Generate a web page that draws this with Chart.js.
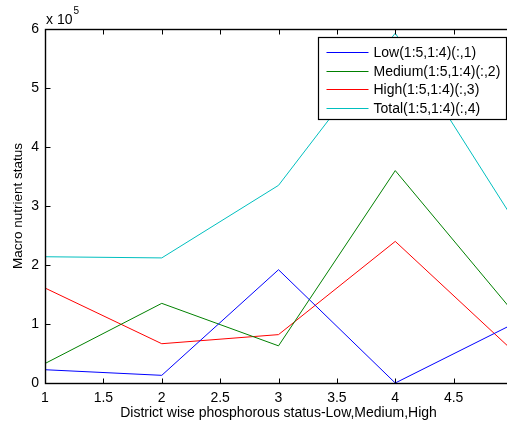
<!DOCTYPE html>
<html>
<head>
<meta charset="utf-8">
<script src="https://cdn.jsdelivr.net/npm/chart.js@4.4.1/dist/chart.umd.min.js"></script>
<style>
  html, body { margin: 0; padding: 0; background: #fff; overflow: hidden; }
  #wrap { width: 530px; height: 423px; }
</style>
</head>
<body>
<div id="wrap"><canvas id="plot" width="530" height="423"></canvas></div>
<script>
// district positions and the four nutrient series
const xValues = [1, 2, 3, 4, 5];
const lowVals = [22500, 13000, 192000, 0, 99000];
const mediumVals = [33000, 135000, 63000, 360000, 123000];
const highVals = [161000, 66600, 82000, 240000, 56000];
const totalVals = [214000, 212000, 335000, 593000, 281000];

const seriesLabels = ['Low(1:5,1:4)(:,1)', 'Medium(1:5,1:4)(:,2)', 'High(1:5,1:4)(:,3)', 'Total(1:5,1:4)(:,4)'];
const seriesColors = ['#0000ff', '#008000', '#ff0000', '#00bfbf'];
const seriesValues = [lowVals, mediumVals, highVals, totalVals];

const xTickValues = [1, 1.5, 2, 2.5, 3, 3.5, 4, 4.5, 5];
const yTickValues = [0, 100000, 200000, 300000, 400000, 500000, 600000];

const FONT = '"Liberation Sans", Arial, Helvetica, sans-serif';

function toPoints(vals) {
    return vals.map((v, i) => ({ x: xValues[i], y: v }));
}

// box around the axes, inward ticks, exponent label and the legend
const matlabAxes = {
    id: 'matlabAxes',
    afterDraw(chart) {
        const ctx = chart.ctx;
        const a = chart.chartArea;
        const xs = chart.scales.x;
        const ys = chart.scales.y;
        const L = Math.round(a.left) + 0.5, R = Math.round(a.right) + 0.5;
        const T = Math.round(a.top) + 0.5, B = Math.round(a.bottom) + 0.5;

        ctx.save();
        ctx.strokeStyle = '#000';
        ctx.lineWidth = 1.4;
        ctx.strokeRect(L, T, R - L, B - T);

        ctx.lineWidth = 1;
        ctx.beginPath();
        xTickValues.forEach(v => {
            const px = Math.round(xs.getPixelForValue(v)) + 0.5;
            ctx.moveTo(px, B); ctx.lineTo(px, B - 5);
            ctx.moveTo(px, T); ctx.lineTo(px, T + 5);
        });
        yTickValues.forEach(v => {
            const py = Math.round(ys.getPixelForValue(v)) + 0.5;
            ctx.moveTo(L, py); ctx.lineTo(L + 5, py);
            ctx.moveTo(R, py); ctx.lineTo(R - 5, py);
        });
        ctx.stroke();

        // "x 10^5" multiplier above the y axis
        ctx.fillStyle = '#000';
        ctx.textBaseline = 'middle';
        ctx.textAlign = 'left';
        ctx.font = '14px ' + FONT;
        ctx.fillText('x 10', a.left + 1, a.top - 9);
        const w = ctx.measureText('x 10').width;
        ctx.font = '10px ' + FONT;
        ctx.fillText('5', a.left + 2 + w, a.top - 18);

        // legend
        const bw = 188, bh = 82;
        const bx = Math.round(a.right - 6 - bw) + 0.5;
        const by = Math.round(a.top + 8) + 0.5;
        ctx.fillStyle = '#fff';
        ctx.fillRect(bx, by, bw, bh);
        ctx.strokeStyle = '#000';
        ctx.lineWidth = 1.2;
        ctx.strokeRect(bx, by, bw, bh);
        ctx.font = '14px ' + FONT;
        seriesLabels.forEach((label, i) => {
            const cy = by + 14.5 + i * 18.7;
            ctx.strokeStyle = seriesColors[i];
            ctx.lineWidth = 1;
            ctx.beginPath();
            ctx.moveTo(bx + 8, Math.round(cy) + 0.5);
            ctx.lineTo(bx + 50, Math.round(cy) + 0.5);
            ctx.stroke();
            ctx.fillStyle = '#000';
            ctx.fillText(label, bx + 55, cy + 1);
        });
        ctx.restore();
    }
};

new Chart(document.getElementById('plot'), {
    type: 'line',
    data: {
        datasets: seriesValues.map((vals, i) => ({
            label: seriesLabels[i],
            data: toPoints(vals),
            borderColor: seriesColors[i],
            borderWidth: 1,
            pointRadius: 0,
            tension: 0,
            fill: false
        }))
    },
    options: {
        responsive: false,
        animation: false,
        layout: { padding: { top: 29, right: 18, left: 0, bottom: 0 } },
        plugins: {
            legend: { display: false },
            tooltip: { enabled: false }
        },
        scales: {
            x: {
                type: 'linear',
                min: 1,
                max: 5,
                afterBuildTicks: s => { s.ticks = xTickValues.map(v => ({ value: v })); },
                afterFit: s => { s.height = 40; },
                grid: { display: false, drawTicks: false },
                border: { display: false },
                ticks: {
                    padding: 7,
                    color: '#000',
                    font: { family: FONT, size: 14 },
                    maxRotation: 0,
                    callback: v => String(v)
                },
                title: {
                    display: true,
                    text: 'District wise phosphorous status-Low,Medium,High',
                    color: '#000',
                    font: { family: FONT, size: 14 },
                    padding: { top: 0, bottom: 1 }
                }
            },
            y: {
                min: 0,
                max: 600000,
                afterBuildTicks: s => { s.ticks = yTickValues.map(v => ({ value: v })); },
                afterFit: s => { s.width = 45; },
                grid: { display: false, drawTicks: false },
                border: { display: false },
                ticks: {
                    padding: 6,
                    color: '#000',
                    font: { family: FONT, size: 14 },
                    callback: v => String(v / 100000)
                },
                title: {
                    display: true,
                    text: 'Macro nutrient status',
                    color: '#000',
                    font: { family: FONT, size: 13.5 },
                    padding: { top: 10, bottom: 0 }
                }
            }
        }
    },
    plugins: [matlabAxes]
});
</script>
</body>
</html>
